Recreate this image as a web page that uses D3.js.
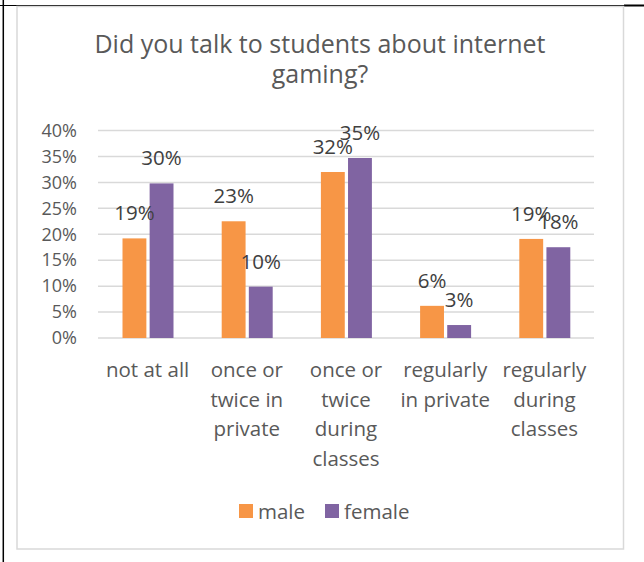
<!DOCTYPE html>
<html>
<head>
<meta charset="utf-8">
<script src="https://cdn.jsdelivr.net/npm/d3@7"></script>
<style>
  body { margin: 0; background: #fff; }
  text { font-family: "Open Sans", sans-serif; }
</style>
</head>
<body>
<div id="graph"></div>
<script>
// survey chart: male vs female, share of teachers
var categories = [
  ["not at all"],
  ["once or", "twice in", "private"],
  ["once or", "twice", "during", "classes"],
  ["regularly", "in private"],
  ["regularly", "during", "classes"]
];
var seriesNames = ["male", "female"];
var male = [0.192, 0.225, 0.32, 0.062, 0.191];
var female = [0.298, 0.099, 0.347, 0.025, 0.175];
var maleLabels = ["19%", "23%", "32%", "6%", "19%"];
var femaleLabels = ["30%", "10%", "35%", "3%", "18%"];
var yTicks = [0, 0.05, 0.1, 0.15, 0.2, 0.25, 0.3, 0.35, 0.4];

var colors = ["#F79646", "#8064A2"];
var svgWidth = 644, svgHeight = 562;

var svg = d3.select('#graph').append('svg')
  .attr("width", svgWidth)
  .attr("height", svgHeight);

// outer document lines
svg.append("line").attr("x1", 0).attr("x2", 644).attr("y1", 5.5).attr("y2", 5.5)
  .attr("stroke", "#000").attr("stroke-width", 1.2);
svg.append("line").attr("x1", 624).attr("x2", 644).attr("y1", 5.5).attr("y2", 5.5)
  .attr("stroke", "#000").attr("stroke-width", 2);
svg.append("line").attr("x1", 3.3).attr("x2", 3.3).attr("y1", 0).attr("y2", 562)
  .attr("stroke", "#000").attr("stroke-width", 1.5);

// chart frame
svg.append("rect")
  .attr("x", 17).attr("y", 6.5)
  .attr("width", 606.5).attr("height", 542.5)
  .attr("fill", "#fff")
  .attr("stroke", "#d9d9d9")
  .attr("stroke-width", 1.5);

// title
svg.append("text")
  .attr("x", 320).attr("y", 53)
  .attr("text-anchor", "middle")
  .attr("fill", "#595959")
  .style("font-size", "25px")
  .selectAll("tspan")
  .data(["Did you talk to students about internet", "gaming?"])
  .enter().append("tspan")
    .attr("x", 320)
    .attr("dy", function(d, i) { return i ? 30 : 0; })
    .text(function(d) { return d; });

var x = d3.scaleBand()
  .domain(d3.range(categories.length))
  .range([98, 594]);

var xs = d3.scaleBand()
  .domain(seriesNames)
  .range([24.5, 75.5])
  .paddingInner(0.12);

var y = d3.scaleLinear()
  .domain([0, 0.4])
  .range([338, 130.5]);

// gridlines
svg.append("g").selectAll("line")
  .data(yTicks)
  .enter().append("line")
    .attr("x1", 98).attr("x2", 594)
    .attr("y1", function(d) { return y(d); })
    .attr("y2", function(d) { return y(d); })
    .attr("stroke", "#d9d9d9")
    .attr("stroke-width", 1.5);

// y axis labels
var yAxis = svg.append("g")
  .attr("transform", "translate(77,0)")
  .call(d3.axisLeft(y).tickValues(yTicks).tickFormat(d3.format(".0%")).tickSize(0).tickPadding(0));
yAxis.select(".domain").remove();
yAxis.selectAll("text")
  .attr("fill", "#595959")
  .style("font-size", "18px")
  .style("font-family", "'Open Sans', sans-serif");

var data = categories.map(function(c, i) {
  return [
    {s: "male", v: male[i], label: maleLabels[i], c: colors[0]},
    {s: "female", v: female[i], label: femaleLabels[i], c: colors[1]}
  ];
});

var groups = svg.append("g").selectAll("g")
  .data(data)
  .enter().append("g")
    .attr("transform", function(d, i) { return "translate(" + x(i) + ",0)"; });

groups.selectAll("rect")
  .data(function(d) { return d; })
  .enter().append("rect")
    .attr("x", function(d) { return xs(d.s); })
    .attr("width", xs.bandwidth())
    .attr("y", function(d) { return y(d.v); })
    .attr("height", function(d) { return y(0) - y(d.v); })
    .attr("fill", function(d) { return d.c; });

groups.selectAll("text")
  .data(function(d) { return d; })
  .enter().append("text")
    .attr("x", function(d) { return xs(d.s) + xs.bandwidth() / 2; })
    .attr("y", function(d) { return y(d.v) - 18; })
    .attr("text-anchor", "middle")
    .attr("fill", "#404040")
    .style("font-size", "20.5px")
    .text(function(d) { return d.label; });

// category labels
svg.append("g").selectAll("text")
  .data(categories)
  .enter().append("text")
    .attr("text-anchor", "middle")
    .attr("fill", "#595959")
    .style("font-size", "20.5px")
    .attr("y", 377)
    .each(function(lines, i) {
      d3.select(this).selectAll("tspan")
        .data(lines)
        .enter().append("tspan")
          .attr("x", x(i) + x.bandwidth() / 2)
          .attr("dy", function(d, j) { return j ? 29.5 : 0; })
          .text(function(d) { return d; });
    });

// legend
var legendX = [239, 325];
var legend = svg.append("g").selectAll("g")
  .data(seriesNames)
  .enter().append("g")
    .attr("transform", function(d, i) { return "translate(" + legendX[i] + ",504)"; });
legend.append("rect")
  .attr("width", 14).attr("height", 14)
  .attr("fill", function(d, i) { return colors[i]; });
legend.append("text")
  .attr("x", 19).attr("y", 14.5)
  .attr("fill", "#595959")
  .style("font-size", "20.5px")
  .text(function(d) { return d; });
</script>
</body>
</html>
